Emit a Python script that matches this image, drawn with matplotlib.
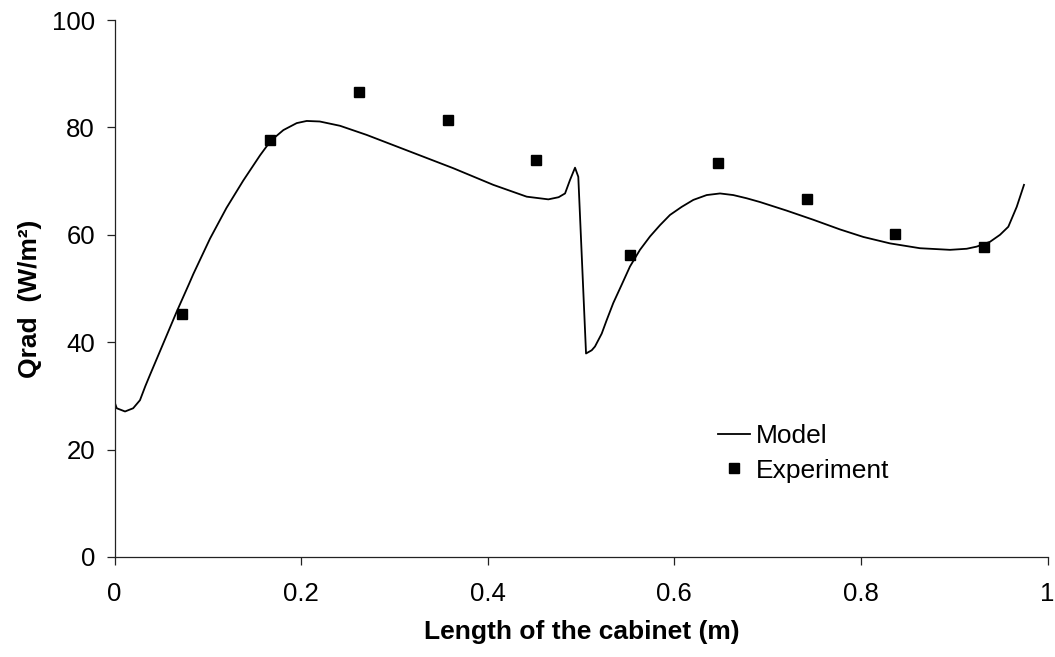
import matplotlib
matplotlib.use("Agg")
import matplotlib.pyplot as plt
from matplotlib.ticker import FuncFormatter

plt.rcParams['font.family'] = ['Liberation Sans', 'DejaVu Sans']

# Model curve: radiative heat flux along the cabinet
model_x = [0.0, 0.0024, 0.0113, 0.020, 0.0273, 0.033, 0.038, 0.047, 0.056,
           0.0667, 0.080, 0.0845, 0.1024, 0.120, 0.138, 0.156, 0.1674, 0.181,
           0.1953, 0.206, 0.220, 0.2417, 0.2703, 0.3167, 0.3631, 0.406,
           0.4418, 0.465, 0.4760, 0.4829, 0.4882, 0.4936, 0.4971, 0.5054,
           0.5115, 0.5150, 0.5222, 0.5275, 0.5346, 0.5436, 0.5525, 0.5632,
           0.5740, 0.5847, 0.5954, 0.6079, 0.6204, 0.6347, 0.6490, 0.6632,
           0.6776, 0.6919, 0.7205, 0.7490, 0.7776, 0.8026, 0.8312, 0.8633,
           0.8955, 0.9134, 0.9241, 0.9384, 0.9491, 0.9580, 0.9670, 0.9748]
model_y = [28.9, 27.7, 27.1, 27.7, 29.2, 31.8, 33.9, 37.6, 41.3,
           45.7, 50.9, 52.7, 59.3, 65.0, 70.1, 74.8, 77.5, 79.5,
           80.8, 81.2, 81.1, 80.3, 78.6, 75.5, 72.4, 69.3,
           67.1, 66.6, 67.0, 67.7, 70.2, 72.5, 70.8, 37.9,
           38.5, 39.2, 41.6, 44.1, 47.3, 50.7, 54.1, 57.2,
           59.7, 61.8, 63.7, 65.2, 66.5, 67.4, 67.7, 67.4,
           66.8, 66.1, 64.5, 62.8, 61.0, 59.6, 58.4, 57.5,
           57.2, 57.4, 57.8, 58.7, 60.0, 61.5, 65.2, 69.3]

# Measured values
exp_x = [0.072, 0.167, 0.262, 0.357, 0.452, 0.552, 0.647, 0.742, 0.837, 0.932]
exp_y = [45.2, 77.7, 86.5, 81.4, 73.9, 56.3, 73.4, 66.6, 60.1, 57.7]

x_ticks = [0, 0.2, 0.4, 0.6, 0.8, 1.0]
y_ticks = [0, 20, 40, 60, 80, 100]

W, H = 1055, 657
fig = plt.figure(figsize=(W / 100, H / 100), dpi=100)
ax = fig.add_axes([114.5 / W, (H - 557) / H, 933 / W, 537 / H])

ax.plot(model_x, model_y, color='black', lw=1.3, label='Model',
        solid_joinstyle='round')
ax.plot(exp_x, exp_y, ls='none', marker='s', ms=7.8, color='black',
        label='Experiment')

ax.set_xlim(0, 1)
ax.set_ylim(0, 100)
ax.set_xticks(x_ticks)
ax.set_yticks(y_ticks)
ax.xaxis.set_major_formatter(FuncFormatter(lambda v, p: f"{v:g}"))

for side in ('top', 'right'):
    ax.spines[side].set_visible(False)
for side in ('left', 'bottom'):
    ax.spines[side].set_color('#222222')
    ax.spines[side].set_linewidth(0.9)
ax.tick_params(axis='both', direction='out', length=6, width=0.9,
               color='#222222', labelsize=18.5)
ax.tick_params(axis='x', pad=12)
ax.tick_params(axis='y', pad=8)

ax.set_xlabel('Length of the cabinet (m)', fontsize=19, fontweight='bold')
ax.xaxis.set_label_coords(0.5005, -0.117)
ax.set_ylabel('Qrad  (W/m²)', fontsize=19, fontweight='bold')
ax.yaxis.set_label_coords(-0.091, 0.48)
ax.yaxis.label.set_verticalalignment('center')

ax.legend(loc='upper left', bbox_to_anchor=((718 - 114.5) / 933, (557 - 424) / 537),
          frameon=False, fontsize=19, handlelength=1.2, handletextpad=0.25,
          labelspacing=0.40, borderaxespad=0, borderpad=0)

fig.savefig('out.png', dpi=100)
